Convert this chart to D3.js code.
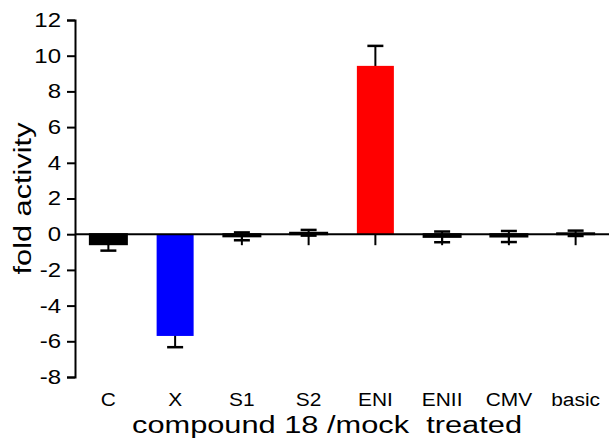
<!DOCTYPE html>
<html>
<head>
<meta charset="utf-8">
<script src="https://cdn.jsdelivr.net/npm/d3@7"></script>
<style>
  html, body { margin: 0; padding: 0; background: #fff; }
  svg { display: block; }
  text { font-family: "Liberation Sans", Arial, sans-serif; fill: #000; }
</style>
</head>
<body>
<div id="chart"></div>
<script>
const categories = ["C", "X", "S1", "S2", "ENI", "ENII", "CMV", "basic"];
const values = [-0.56, -5.70, -0.12, 0.08, 9.43, -0.15, -0.13, 0.05];
const errors = [0.36, 0.63, 0.22, 0.16, 1.12, 0.30, 0.31, 0.15];
const barColors = ["#000000", "#0000ff", "#000000", "#000000", "#ff0000", "#000000", "#000000", "#000000"];
const yTicks = [-8, -6, -4, -2, 0, 2, 4, 6, 8, 10, 12];
const yTitle = "fold activity";
const xTitle = "compound 18 /mock  treated";

const W = 609, H = 438;
const svg = d3.select("#chart").append("svg").attr("width", W).attr("height", H);

const x = d3.scaleBand().domain(categories).range([75, 609]).padding(0);
const y = d3.scaleLinear().domain([-8, 12]).range([377, 20]);
const barW = 37;
const sx = 1.2; // horizontal stretch of the reference's lettering

const data = categories.map((c, i) => ({ c, v: values[i], e: errors[i], col: barColors[i] }));

// Y axis
const yAxis = svg.append("g").attr("transform", "translate(75,0)")
  .call(d3.axisLeft(y).tickValues(yTicks).tickSize(8).tickPadding(5).tickFormat(d => String(d)));
yAxis.selectAll("path.domain").attr("stroke", "#000").attr("stroke-width", 2);
yAxis.selectAll(".tick line").attr("stroke", "#000").attr("stroke-width", 2);
yAxis.selectAll(".tick text")
  .attr("font-size", 20)
  .attr("font-family", "Liberation Sans, Arial, sans-serif")
  .attr("x", -14 / sx)
  .attr("transform", `scale(${sx},1)`);

// X axis ticks at zero
const xAxis = svg.append("g").attr("transform", `translate(0,${y(0)})`)
  .call(d3.axisBottom(x).tickSizeInner(11).tickSizeOuter(0).tickFormat(""));
xAxis.select("path.domain").remove();
xAxis.selectAll(".tick line").attr("stroke", "#000").attr("stroke-width", 2);

// Error bars
const cx = d => x(d.c) + x.bandwidth() / 2;
const eb = svg.append("g").selectAll("g").data(data).join("g");
eb.append("line")
  .attr("x1", cx).attr("x2", cx)
  .attr("y1", d => y(d.v + d.e)).attr("y2", d => y(d.v - d.e))
  .attr("stroke", "#000").attr("stroke-width", 2);
eb.append("line")
  .attr("x1", d => cx(d) - 8).attr("x2", d => cx(d) + 8)
  .attr("y1", d => y(d.v + d.e)).attr("y2", d => y(d.v + d.e))
  .attr("stroke", "#000").attr("stroke-width", 2.5);
eb.append("line")
  .attr("x1", d => cx(d) - 8).attr("x2", d => cx(d) + 8)
  .attr("y1", d => y(d.v - d.e)).attr("y2", d => y(d.v - d.e))
  .attr("stroke", "#000").attr("stroke-width", 2.5);

// Bars
svg.append("g").selectAll("rect").data(data).join("rect")
  .attr("x", d => cx(d) - barW / 2)
  .attr("width", barW)
  .attr("y", d => Math.min(y(d.v), y(0)))
  .attr("height", d => Math.abs(y(d.v) - y(0)))
  .attr("fill", d => d.col)
  .attr("stroke", d => d.col === "#000000" ? "#000" : "none")
  .attr("stroke-width", 2);

// Zero line on top
svg.append("line")
  .attr("x1", 75).attr("x2", 609)
  .attr("y1", y(0)).attr("y2", y(0))
  .attr("stroke", "#000").attr("stroke-width", 2);

// Category labels
svg.append("g").selectAll("text").data(categories).join("text")
  .attr("transform", d => `translate(${x(d) + x.bandwidth() / 2},406) scale(1.1,1)`)
  .attr("text-anchor", "middle")
  .attr("font-size", 19)
  .text(d => d);

// X title
svg.append("text")
  .attr("x", 327).attr("y", 433)
  .attr("text-anchor", "middle")
  .attr("font-size", 23)
  .attr("textLength", 390)
  .attr("lengthAdjust", "spacingAndGlyphs")
  .style("white-space", "pre")
  .text(xTitle);

// Y title
svg.append("text")
  .attr("transform", `translate(31,${(y(-8) + y(12)) / 2}) rotate(-90)`)
  .attr("text-anchor", "middle")
  .attr("font-size", 23)
  .attr("textLength", 152)
  .attr("lengthAdjust", "spacingAndGlyphs")
  .text(yTitle);
</script>
</body>
</html>
